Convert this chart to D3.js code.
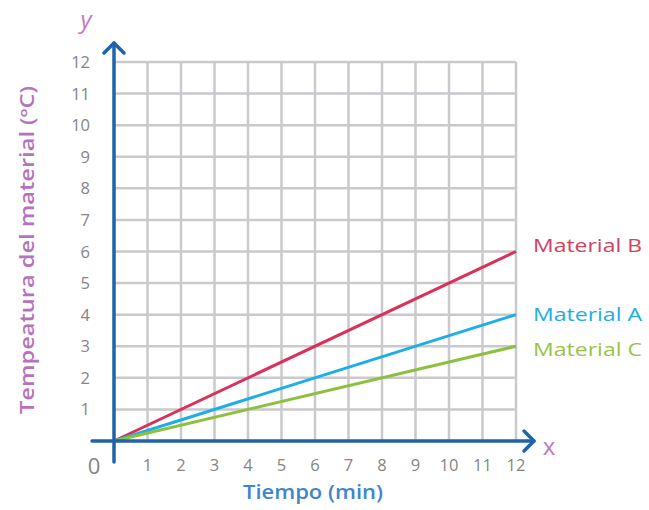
<!DOCTYPE html>
<html>
<head>
<meta charset="utf-8">
<script src="https://cdn.jsdelivr.net/npm/d3@7"></script>
<style>
  body { margin: 0; background: #fff; }
  text { font-family: "Open Sans", sans-serif; }
</style>
</head>
<body>
<svg id="chart" width="649" height="510"></svg>
<script>
const svg = d3.select("#chart");

// ticks on both axes
const xTicks = [1, 2, 3, 4, 5, 6, 7, 8, 9, 10, 11, 12];
const yTicks = [1, 2, 3, 4, 5, 6, 7, 8, 9, 10, 11, 12];

// each material: temperature at t = 0 and t = 12
const materials = ["Material B", "Material A", "Material C"];
const times = [0, 12];
const tempB = [0, 6];
const tempA = [0, 4];
const tempC = [0, 3];
const colors = ["#d8325a", "#1eaee6", "#8dc03f"];
const labelColors = ["#d4405f", "#22aee2", "#9cc248"];

const x = d3.scaleLinear().domain([0, 12]).range([114, 516]);
const y = d3.scaleLinear().domain([0, 12]).range([441, 62]);

// grid
const grid = svg.append("g").attr("stroke", "#c9c9ce").attr("stroke-width", 2.5);
grid.selectAll(".v").data(xTicks).enter().append("line")
    .attr("x1", d => x(d)).attr("x2", d => x(d))
    .attr("y1", y(0)).attr("y2", y(12));
grid.selectAll(".h").data(yTicks).enter().append("line")
    .attr("x1", x(0)).attr("x2", x(12))
    .attr("y1", d => y(d)).attr("y2", d => y(d));

// lines
const series = [tempB, tempA, tempC];
const line = d3.line().x((d, i) => x(times[i])).y(d => y(d));
svg.selectAll(".series").data(series).enter().append("path")
    .attr("d", d => line(d))
    .attr("fill", "none")
    .attr("stroke", (d, i) => colors[i])
    .attr("stroke-width", 3);

// axes with arrows
const axisColor = "#1f64ab";
const ax = svg.append("g").attr("stroke", axisColor).attr("stroke-width", 3.5)
    .attr("fill", "none").attr("stroke-linecap", "round").attr("stroke-linejoin", "round");
ax.append("line").attr("x1", 92).attr("x2", 534).attr("y1", y(0)).attr("y2", y(0));
ax.append("path").attr("d", `M524,${y(0) - 10}L534,${y(0)}L524,${y(0) + 10}`);
ax.append("line").attr("x1", x(0)).attr("x2", x(0)).attr("y1", 462).attr("y2", 43);
ax.append("path").attr("d", `M${x(0) - 10},53L${x(0)},43L${x(0) + 10},53`);

// tick labels
svg.selectAll(".xt").data(xTicks).enter().append("text")
    .attr("x", d => x(d)).attr("y", 471)
    .attr("text-anchor", "middle")
    .attr("font-size", 16.5).attr("fill", "#858585")
    .text(d => d);
svg.selectAll(".yt").data(yTicks).enter().append("text")
    .attr("x", 90).attr("y", d => y(d) + 6)
    .attr("text-anchor", "end")
    .attr("font-size", 16.5).attr("fill", "#858585")
    .text(d => d);
svg.append("text").attr("x", 94).attr("y", 474).attr("text-anchor", "middle")
    .attr("font-size", 22).attr("fill", "#858585").text("0");

// series labels
svg.selectAll(".lab").data(materials).enter().append("text")
    .attr("x", 533)
    .attr("y", (d, i) => y(series[i][1]) + [0, 6, 10][i])
    .attr("font-size", 19)
    .attr("textLength", 109).attr("lengthAdjust", "spacingAndGlyphs")
    .attr("fill", (d, i) => labelColors[i])
    .text(d => d);

// axis names
svg.append("text").attr("x", 86).attr("y", 28).attr("text-anchor", "middle")
    .attr("font-size", 24).attr("font-style", "italic").attr("fill", "#c07ac4").text("y");
svg.append("text").attr("x", 549).attr("y", 455).attr("text-anchor", "middle")
    .attr("font-size", 24).attr("fill", "#c07ac4").text("x");

svg.append("text")
    .attr("transform", "translate(34,250) rotate(-90)")
    .attr("text-anchor", "middle")
    .attr("font-size", 19).attr("font-weight", 600).attr("fill", "#b673bd")
    .attr("textLength", 328).attr("lengthAdjust", "spacingAndGlyphs")
    .text("Tempeatura del material (ºC)");
svg.append("text").attr("x", 313).attr("y", 499).attr("text-anchor", "middle")
    .attr("font-size", 20).attr("font-weight", 600).attr("fill", "#3f86cc")
    .attr("textLength", 140).attr("lengthAdjust", "spacingAndGlyphs")
    .text("Tiempo (min)");
</script>
</body>
</html>
